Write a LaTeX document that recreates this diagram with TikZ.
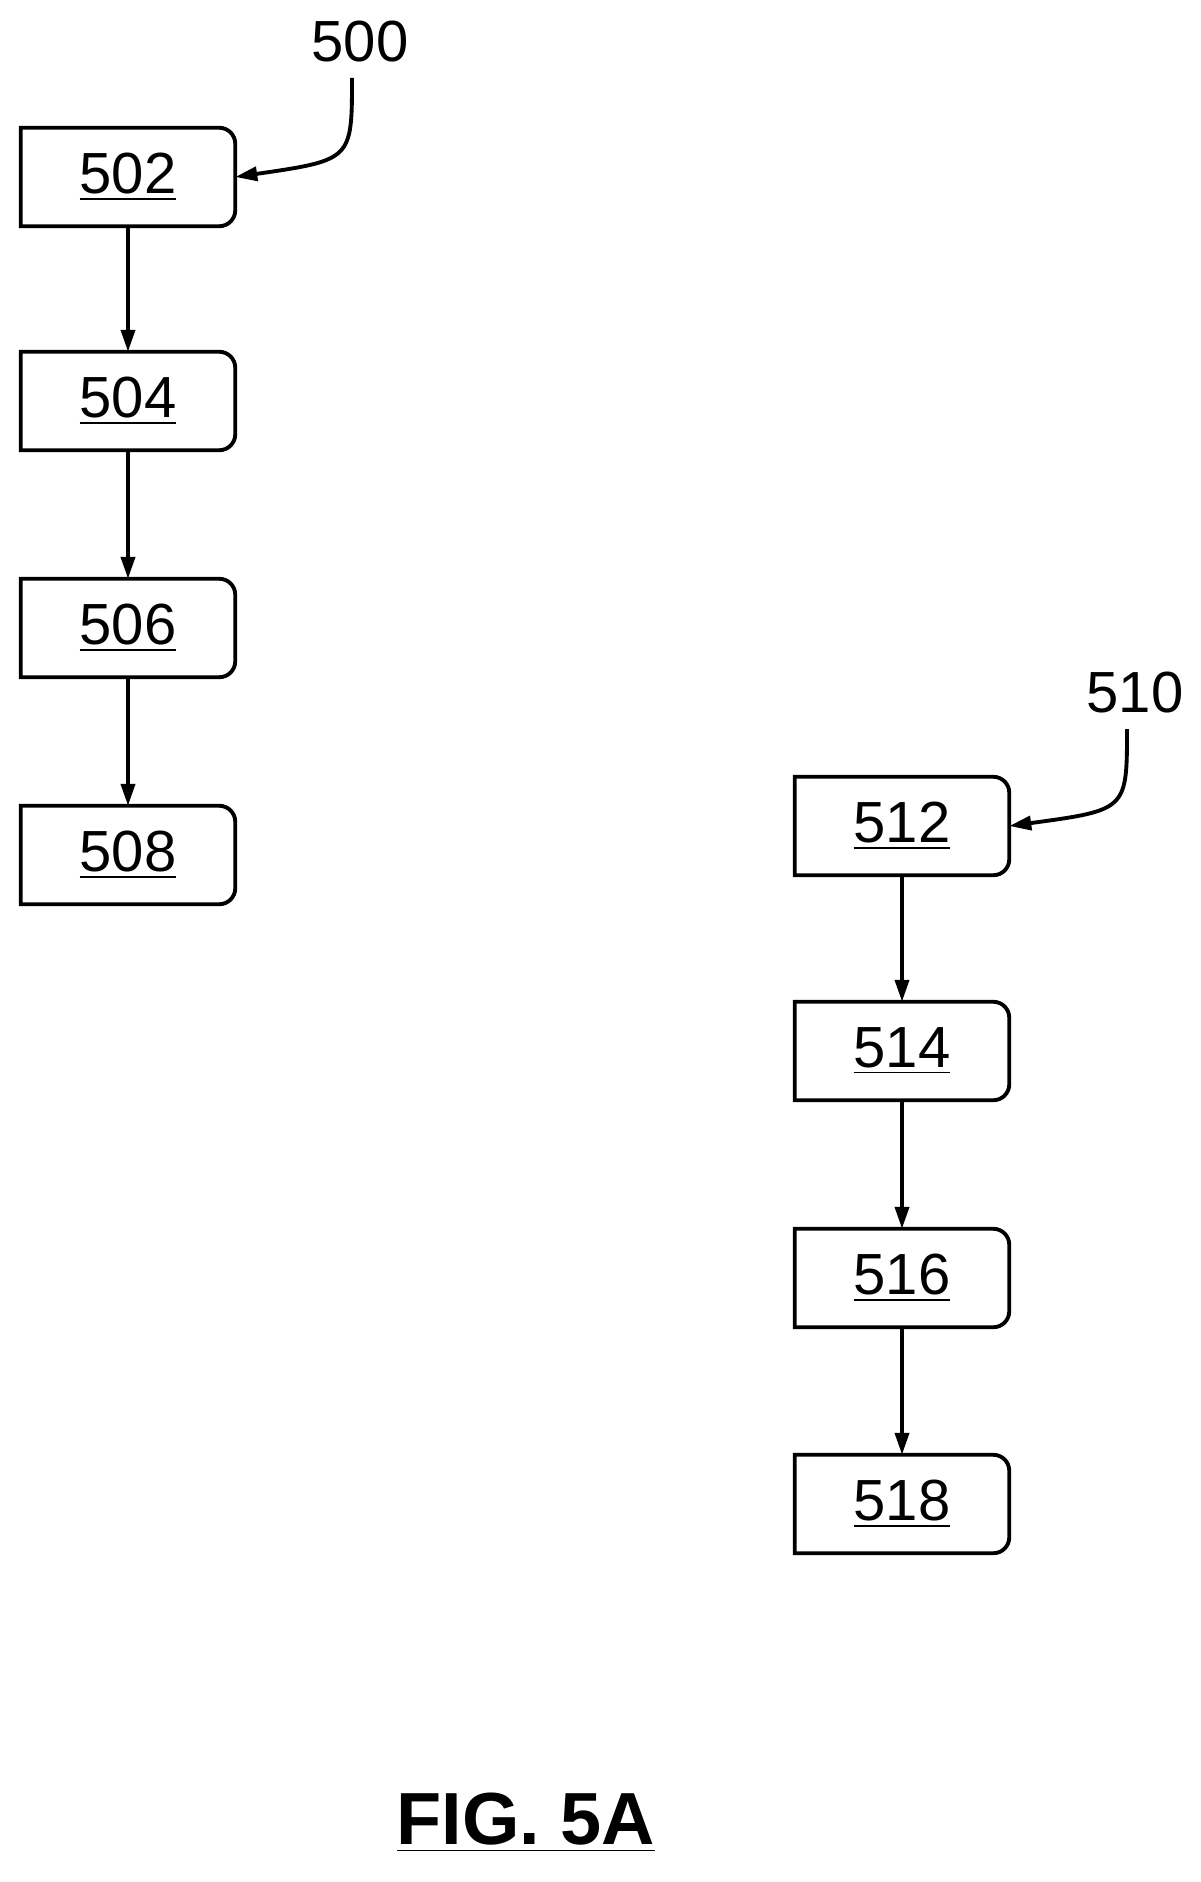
\documentclass[tikz,border=0pt]{standalone}
\usepackage{fontspec}
\setmainfont{Liberation Sans}
\usetikzlibrary{arrows.meta,positioning}
\begin{document}
\begin{tikzpicture}[
    x=0.01cm, y=-0.01cm,
    edge/.style={-{Triangle[length=0.22cm,width=0.14cm]}, line width=1.1pt},
    flowbox/.style={rectangle, minimum width=2.13cm, minimum height=0.97cm, font=\fontsize{16.5}{18}\selectfont, inner sep=0pt},
    ref/.style={font=\fontsize{16.5}{18}\selectfont}
]
\useasboundingbox (0,0) rectangle (1201,1882);

% Flow 500
\node[flowbox] (s502) at (128,177) {\underline{502}};
\node[flowbox] (s504) at (128,401) {\underline{504}};
\node[flowbox] (s506) at (128,628) {\underline{506}};
\node[flowbox] (s508) at (128,855) {\underline{508}};

% Flow 510
\node[flowbox] (s512) at (902,826) {\underline{512}};
\node[flowbox] (s514) at (902,1051) {\underline{514}};
\node[flowbox] (s516) at (902,1278) {\underline{516}};
\node[flowbox] (s518) at (902,1504) {\underline{518}};

% Box outlines (rounded top right corner)
\foreach \n in {s502,s504,s506,s508,s512,s514,s516,s518}
  \draw[line width=1.1pt] (\n.south west) -- (\n.north west)
    [rounded corners=0.16cm] -- (\n.north east) -- (\n.south east)
    [sharp corners] -- cycle;

% Arrows
\draw[edge] (s502) -- (s504);
\draw[edge] (s504) -- (s506);
\draw[edge] (s506) -- (s508);
\draw[edge] (s512) -- (s514);
\draw[edge] (s514) -- (s516);
\draw[edge] (s516) -- (s518);

% Reference labels
\node[ref] (l500) at (360,42) {500};
\node[ref] (l510) at (1135,693) {510};
\coordinate (c500) at (352,78);
\coordinate (c510) at (1127,729);
\draw[edge] (c500) .. controls (352,160) .. (s502.east);
\draw[edge] (c510) .. controls (1127,810) .. (s512.east);

% Figure label
\node[font=\fontsize{21}{24}\selectfont\bfseries] (fig) at (526,1823) {\underline{FIG. 5A}};
\end{tikzpicture}
\end{document}
